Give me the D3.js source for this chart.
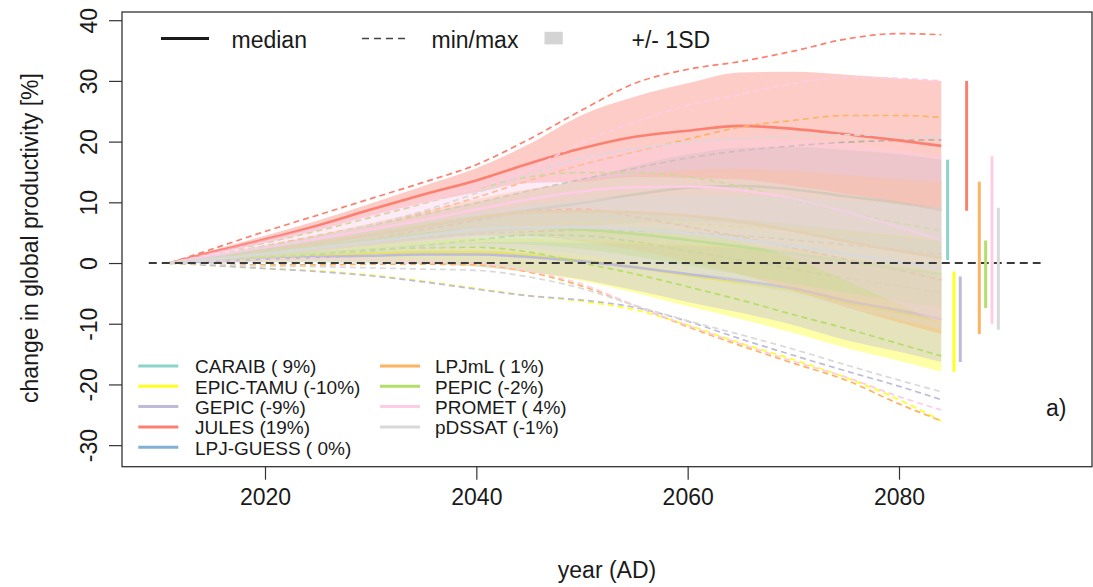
<!DOCTYPE html>
<html>
<head>
<meta charset="utf-8">
<script src="https://cdn.jsdelivr.net/npm/d3@7/dist/d3.min.js"></script>
<style>
  html, body { margin: 0; padding: 0; background: #fff; }
  svg { display: block; font-family: "Liberation Sans", Arial, Helvetica, sans-serif; }
</style>
</head>
<body>
<svg id="chart" width="1093" height="587"></svg>
<script>
// Sample years of the projections
const years = [2011, 2015, 2020, 2025, 2030, 2035, 2040, 2045, 2050, 2055, 2060, 2065, 2070, 2075, 2080, 2084];

// Model names and colours
const models = ["CARAIB", "EPIC-TAMU", "GEPIC", "JULES", "LPJ-GUESS", "LPJmL", "PEPIC", "PROMET", "pDSSAT"];
const colors = ["#8DD3C7", "#FFFF22", "#BEBADA", "#FB8072", "#80B1D3", "#FDB462", "#B3DE69", "#FCCDE5", "#D9D9D9"];

// Change in global productivity [%]: median, standard deviation, minimum, maximum
const caraibMedian = [0, 0.9, 2.1, 3.3, 4.6, 6.0, 7.4, 8.7, 9.9, 11.3, 12.4, 12.7, 12.1, 11.0, 9.9, 8.75];
const caraibSd     = [0, 0.4, 0.8, 1.2, 1.6, 2.1, 2.6, 3.2, 3.9, 4.7, 5.5, 6.3, 7.0, 7.6, 8.0, 8.25];
const caraibMin    = [0, 0.4, 0.8, 1.4, 2.0, 2.9, 3.8, 4.6, 4.5, 3.5, 2.0, 0.5, -1.0, -2.5, -3.8, -4.8];
const caraibMax    = [0, 1.2, 2.8, 4.5, 6.2, 8.0, 9.9, 11.9, 13.8, 15.6, 17.3, 18.5, 19.3, 19.9, 20.2, 20.3];

const epicMedian = [0, 0.4, 0.9, 1.3, 1.6, 1.8, 1.8, 1.3, 0.4, -0.7, -2.0, -3.2, -4.6, -6.6, -8.2, -9.65];
const epicSd     = [0, 0.3, 0.7, 1.0, 1.4, 1.8, 2.3, 2.8, 3.3, 4.2, 5.1, 6.0, 6.9, 7.4, 7.9, 8.25];
const epicMin    = [0, -0.4, -0.9, -1.3, -2.0, -3.0, -4.2, -5.4, -6.3, -7.7, -10.2, -13.2, -15.9, -18.9, -22.5, -26.0];
const epicMax    = [0, 1.0, 2.0, 2.9, 3.8, 4.7, 5.5, 6.3, 6.7, 6.8, 6.5, 6.0, 5.5, 4.9, 4.4, 4.0];

const gepicMedian = [0, 0.3, 0.7, 1.0, 1.2, 1.4, 1.4, 1.0, 0.3, -0.7, -1.8, -2.9, -4.2, -6.2, -7.8, -9.25];
const gepicSd     = [0, 0.3, 0.6, 0.9, 1.2, 1.6, 2.0, 2.5, 3.0, 3.8, 4.6, 5.3, 6.0, 6.5, 6.8, 7.05];
const gepicMin    = [0, -0.4, -0.9, -1.4, -2.1, -3.1, -4.3, -5.4, -6.1, -7.3, -9.6, -12.5, -15.2, -17.8, -20.3, -22.5];
const gepicMax    = [0, 0.8, 1.8, 2.6, 3.5, 4.2, 4.8, 5.2, 5.4, 5.3, 5.0, 4.5, 3.8, 3.0, 2.2, 1.5];

const julesMedian = [0, 1.8, 3.9, 6.2, 8.8, 11.3, 13.6, 16.4, 18.9, 20.8, 21.8, 22.6, 22.1, 21.2, 20.2, 19.3];
const julesSd     = [0, 0.3, 0.6, 0.8, 1.0, 1.4, 2.0, 3.2, 5.5, 6.6, 7.8, 8.8, 9.4, 9.8, 10.2, 10.7];
const julesMin    = [0, 0.6, 1.5, 2.6, 4.0, 5.5, 7.0, 8.5, 8.9, 7.6, 6.0, 4.3, 2.5, 0.6, -1.2, -2.8];
const julesMax    = [0, 2.3, 5.2, 7.9, 10.6, 13.3, 16.2, 20.4, 25.2, 29.6, 31.9, 33.2, 34.9, 36.9, 37.8, 37.6];

// LPJ-GUESS has no projections in this set
const lpjguessMedian = [];
const lpjguessSd     = [];
const lpjguessMin    = [];
const lpjguessMax    = [];

const lpjmlMedian = [0, 0.9, 2.0, 3.3, 4.7, 6.1, 7.5, 8.3, 8.5, 8.3, 7.8, 6.8, 5.3, 3.6, 2.0, 0.85];
const lpjmlSd     = [0, 0.4, 0.8, 1.3, 1.8, 2.4, 3.0, 3.9, 5.0, 6.2, 7.5, 8.7, 9.8, 10.9, 11.8, 12.55];
const lpjmlMin    = [0, -0.2, -0.3, -0.3, -0.2, -0.2, -0.3, -1.5, -3.8, -7.0, -10.5, -13.6, -16.5, -19.3, -23.2, -26.0];
const lpjmlMax    = [0, 1.2, 2.8, 4.5, 6.3, 8.3, 10.8, 13.6, 16.2, 18.3, 20.4, 22.4, 23.5, 24.3, 24.3, 24.0];

const pepicMedian = [0, 0.8, 1.8, 2.8, 3.8, 4.8, 5.5, 5.8, 5.5, 4.8, 3.8, 2.7, 1.5, 0.3, -0.9, -1.85];
const pepicSd     = [0, 0.4, 0.8, 1.2, 1.5, 1.9, 2.3, 2.8, 3.2, 3.7, 4.2, 4.6, 4.9, 5.2, 5.4, 5.55];
const pepicMin    = [0, 0.4, 0.9, 1.4, 2.2, 2.5, 2.6, 1.8, 0.0, -1.8, -3.9, -6.1, -8.5, -10.8, -13.3, -15.3];
const pepicMax    = [0, 1.5, 3.3, 5.3, 7.5, 9.8, 12.2, 14.2, 14.9, 14.9, 14.2, 12.6, 10.4, 8.4, 6.6, 5.3];

const prometMedian = [0, 1.2, 2.6, 4.0, 5.5, 7.1, 8.8, 10.5, 11.8, 12.5, 12.6, 12.0, 10.6, 8.4, 5.9, 3.8];
const prometSd     = [0, 0.6, 1.3, 2.0, 2.8, 3.6, 4.5, 5.3, 6.0, 6.6, 7.4, 8.5, 9.8, 11.3, 12.7, 13.8];
const prometMin    = [0, 0.3, 0.6, 0.8, 0.6, 0.3, 0.0, -1.3, -3.5, -7.0, -10.3, -13.3, -16.2, -18.8, -22.0, -24.2];
const prometMax    = [0, 1.5, 3.5, 5.6, 7.8, 10.0, 12.3, 15.5, 19.8, 23.2, 26.0, 27.8, 29.6, 30.6, 30.4, 30.0];

const pdssatMedian = [0, 0.6, 1.5, 2.5, 3.5, 4.5, 5.5, 5.9, 5.9, 5.5, 4.9, 3.9, 2.8, 1.5, 0.2, -0.95];
const pdssatSd     = [0, 0.4, 0.8, 1.2, 1.7, 2.2, 2.8, 3.6, 4.5, 5.4, 6.3, 7.2, 8.0, 8.8, 9.5, 10.05];
const pdssatMin    = [0, -0.2, -0.5, -0.6, -0.8, -1.0, -1.2, -2.3, -4.2, -7.0, -9.5, -11.8, -14.2, -16.8, -19.3, -21.2];
const pdssatMax    = [0, 1.0, 2.6, 4.3, 6.3, 8.6, 11.5, 14.7, 17.3, 18.8, 19.9, 20.5, 20.9, 21.1, 21.0, 20.7];

// Axis ticks
const xTicks = [2020, 2040, 2060, 2080];
const yTicks = [-30, -20, -10, 0, 10, 20, 30, 40];

const medians = [caraibMedian, epicMedian, gepicMedian, julesMedian, lpjguessMedian, lpjmlMedian, pepicMedian, prometMedian, pdssatMedian];
const sds     = [caraibSd, epicSd, gepicSd, julesSd, lpjguessSd, lpjmlSd, pepicSd, prometSd, pdssatSd];
const mins    = [caraibMin, epicMin, gepicMin, julesMin, lpjguessMin, lpjmlMin, pepicMin, prometMin, pdssatMin];
const maxs    = [caraibMax, epicMax, gepicMax, julesMax, lpjguessMax, lpjmlMax, pepicMax, prometMax, pdssatMax];

const series = models.map((name, i) => ({
  name,
  color: colors[i],
  points: medians[i].map((m, k) => ({
    year: years[k], median: m, sd: sds[i][k], min: mins[i][k], max: maxs[i][k]
  }))
}));

// ---- layout ----
const svg = d3.select("#chart");
const plot = { left: 122, right: 1092, top: 12, bottom: 466.7 };

const x = d3.scaleLinear().domain([2006.467, 2098.265]).range([plot.left, plot.right]);
const y = d3.scaleLinear().domain([-33.55, 41.35]).range([plot.bottom, plot.top]);

const FONT = 23;
const textColor = "#1a1a1a";

svg.append("defs").append("clipPath").attr("id", "plotclip")
  .append("rect")
  .attr("x", plot.left).attr("y", plot.top)
  .attr("width", plot.right - plot.left).attr("height", plot.bottom - plot.top);

const g = svg.append("g").attr("clip-path", "url(#plotclip)");

const curve = d3.curveMonotoneX;
const band = d3.area().curve(curve)
  .x(d => x(d.year)).y0(d => y(d.median - d.sd)).y1(d => y(d.median + d.sd));
const lineOf = key => d3.line().curve(curve).x(d => x(d.year)).y(d => y(d[key]));

// One model at a time: spread band, min/max envelopes, median
series.forEach(s => {
  if (!s.points.length) return;
  g.append("path").datum(s.points)
    .attr("d", band)
    .attr("fill", s.color).attr("fill-opacity", 0.4).attr("stroke", "none");
  ["min", "max"].forEach(key => {
    g.append("path").datum(s.points)
      .attr("d", lineOf(key))
      .attr("fill", "none").attr("stroke", s.color)
      .attr("stroke-width", 1.7).attr("stroke-dasharray", "6,4");
  });
  g.append("path").datum(s.points)
    .attr("d", lineOf("median"))
    .attr("fill", "none").attr("stroke", s.color)
    .attr("stroke-width", 2.6).attr("stroke-linejoin", "round");
});

// Zero reference line
g.append("line")
  .attr("x1", x(2009)).attr("x2", x(2093.4))
  .attr("y1", y(0)).attr("y2", y(0))
  .attr("stroke", "#3a3a3a").attr("stroke-width", 2).attr("stroke-dasharray", "8,5");

// End-of-period median +/- 1SD bars
series.forEach((s, i) => {
  if (!s.points.length) return;
  const last = s.points[s.points.length - 1];
  const bx = x(2084 + 0.6 * (i + 1));
  g.append("line")
    .attr("x1", bx).attr("x2", bx)
    .attr("y1", y(last.median + last.sd)).attr("y2", y(last.median - last.sd))
    .attr("stroke", s.color).attr("stroke-width", 3);
});

// ---- axes ----
const plainNumber = d => String(d);
const xAxis = svg.append("g")
  .attr("transform", `translate(0,${plot.bottom})`)
  .call(d3.axisBottom(x).tickValues(xTicks).tickFormat(plainNumber).tickSize(13).tickPadding(9));
const yAxis = svg.append("g")
  .attr("transform", `translate(${plot.left},0)`)
  .call(d3.axisLeft(y).tickValues(yTicks).tickFormat(plainNumber).tickSize(13));

[xAxis, yAxis].forEach(a => {
  a.select(".domain").remove();
  a.selectAll(".tick line").attr("stroke", "#333").attr("stroke-width", 1.2);
  a.selectAll(".tick text")
    .attr("fill", textColor).style("font-size", FONT + "px")
    .style("font-family", "'Liberation Sans', Arial, sans-serif");
});
yAxis.selectAll(".tick text")
  .attr("x", 0).attr("dy", 0)
  .attr("text-anchor", "middle")
  .attr("transform", "translate(-25,0) rotate(-90)");

// Frame
svg.append("rect")
  .attr("x", plot.left).attr("y", plot.top)
  .attr("width", plot.right - plot.left).attr("height", plot.bottom - plot.top)
  .attr("fill", "none").attr("stroke", "#333").attr("stroke-width", 1.3);

// Axis titles
svg.append("text")
  .attr("x", (plot.left + plot.right) / 2).attr("y", 578)
  .attr("text-anchor", "middle").attr("fill", textColor)
  .style("font-size", FONT + "px").text("year (AD)");
svg.append("text")
  .attr("transform", "translate(38,238) rotate(-90)")
  .attr("text-anchor", "middle").attr("fill", textColor)
  .style("font-size", FONT + "px").text("change in global productivity [%]");

// Panel tag
svg.append("text")
  .attr("x", 1046).attr("y", 416).attr("fill", textColor)
  .style("font-size", FONT + "px").text("a)");

// ---- top legend: line types ----
const keyLegend = svg.append("g");
const ly = 38.5;
keyLegend.append("line").attr("x1", 161).attr("x2", 209).attr("y1", ly).attr("y2", ly)
  .attr("stroke", "#1a1a1a").attr("stroke-width", 3);
keyLegend.append("text").attr("x", 231.5).attr("y", 48).attr("fill", textColor)
  .style("font-size", FONT + "px").text("median");
keyLegend.append("line").attr("x1", 362).attr("x2", 407).attr("y1", ly).attr("y2", ly)
  .attr("stroke", "#444").attr("stroke-width", 1.5).attr("stroke-dasharray", "7,5");
keyLegend.append("text").attr("x", 431.5).attr("y", 48).attr("fill", textColor)
  .style("font-size", FONT + "px").text("min/max");
keyLegend.append("rect").attr("x", 544.5).attr("y", 31.8).attr("width", 18.3).attr("height", 12.6)
  .attr("fill", "#d4d4d4");
keyLegend.append("text").attr("x", 631.5).attr("y", 48).attr("fill", textColor)
  .style("font-size", FONT + "px").text("+/- 1SD");

// ---- model legend ----
const fmtPct = v => String(Math.round(v)).padStart(2, " ") + "%";
const modelLegend = svg.append("g");
series.forEach((s, i) => {
  const col = i < 5 ? 0 : 1;
  const row = i < 5 ? i : i - 5;
  const lx = col === 0 ? 138.3 : 380;
  const tx = col === 0 ? 195 : 435;
  const yy = 366 + row * 20.3;
  const lastMedian = s.points.length ? s.points[s.points.length - 1].median : 0;
  modelLegend.append("line").attr("x1", lx).attr("x2", lx + 40).attr("y1", yy).attr("y2", yy)
    .attr("stroke", s.color).attr("stroke-width", 3);
  modelLegend.append("text").attr("x", tx).attr("y", yy + 7.3).attr("fill", textColor)
    .attr("xml:space", "preserve").style("white-space", "pre")
    .style("font-size", "19px")
    .text(`${s.name} (${fmtPct(lastMedian)})`);
});
</script>
</body>
</html>
